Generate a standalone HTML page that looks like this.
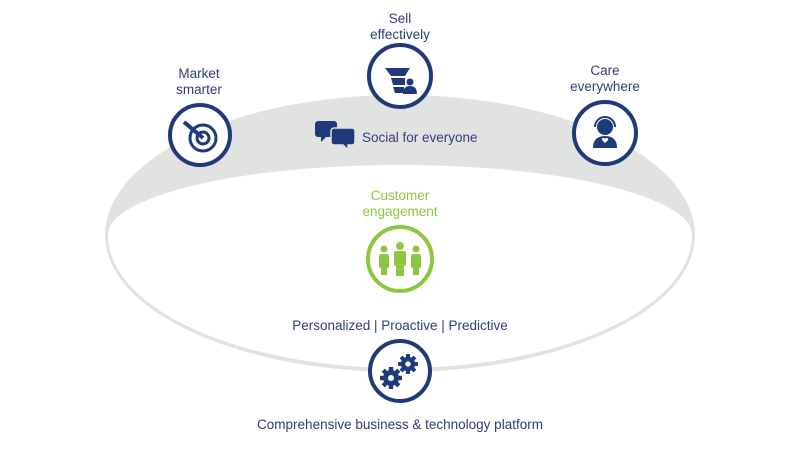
<!DOCTYPE html>
<html><head><meta charset="utf-8"><style>
html,body{margin:0;padding:0;background:#fff;width:800px;height:456px;overflow:hidden}
svg text{font-family:"Liberation Sans",sans-serif;font-size:13.5px;fill:#2b3f7a}
</style></head><body>
<svg width="800" height="456" viewBox="0 0 800 456">
<defs>
<g id="gear">
<circle r="8" fill="#1f3a7a"/>
<g fill="#1f3a7a">
<rect x="-2.2" y="-11" width="4.4" height="22"/>
<rect x="-2.2" y="-11" width="4.4" height="22" transform="rotate(45)"/>
<rect x="-2.2" y="-11" width="4.4" height="22" transform="rotate(90)"/>
<rect x="-2.2" y="-11" width="4.4" height="22" transform="rotate(135)"/>
</g>
<circle r="3" fill="#fff"/>
</g>
</defs>
<path d="M105 235 A295 140 0 0 1 695 235 A295 137 0 0 1 105 235 Z" fill="#e1e2e2"/>
<path d="M108 235 A292 70 0 0 1 692 235 A292 133 0 0 1 108 235 Z" fill="#fff"/>

<!-- Market smarter -->
<text x="199" y="78" text-anchor="middle">Market</text>
<text x="199" y="94" text-anchor="middle">smarter</text>
<circle cx="200" cy="135" r="30" fill="#fff" stroke="#1f3a7a" stroke-width="4"/>
<circle cx="203" cy="138" r="13" fill="none" stroke="#1f3a7a" stroke-width="3"/>
<circle cx="203" cy="138" r="6" fill="none" stroke="#1f3a7a" stroke-width="3"/>
<path d="M203 138 L184 122" stroke="#1f3a7a" stroke-width="4"/>

<!-- Sell -->
<text x="400" y="23" text-anchor="middle">Sell</text>
<text x="400" y="39" text-anchor="middle">effectively</text>
<circle cx="400" cy="76" r="31" fill="#fff" stroke="#1f3a7a" stroke-width="4"/>
<path d="M385 68 H410 L405 76 H391 Z M391 78 H405 V85 H393 Z M393 87 H404 V93 H395 Z" fill="#1f3a7a"/>
<circle cx="410" cy="82" r="3.5" fill="#1f3a7a"/>
<path d="M403 94 Q403 86 410 86 Q417 86 417 94 Z" fill="#1f3a7a"/>

<!-- Social -->
<path d="M318 121 h16 a3 3 0 0 1 3 3 v10 a3 3 0 0 1 -3 3 h-8 l-5 5 v-5 h-3 a3 3 0 0 1 -3 -3 v-10 a3 3 0 0 1 3 -3z" fill="#1f3a7a"/>
<path d="M334 128 h18 a3 3 0 0 1 3 3 v11 a3 3 0 0 1 -3 3 h-4 v5 l-5 -5 h-9 a3 3 0 0 1 -3 -3 v-11 a3 3 0 0 1 3 -3z" fill="#1f3a7a" stroke="#e1e2e2" stroke-width="1.5"/>
<text x="362" y="142">Social for everyone</text>

<!-- Care -->
<text x="605" y="75" text-anchor="middle">Care</text>
<text x="605" y="91" text-anchor="middle">everywhere</text>
<circle cx="605" cy="133" r="31" fill="#fff" stroke="#1f3a7a" stroke-width="4"/>
<circle cx="605" cy="127" r="8" fill="#1f3a7a"/>
<path d="M595 127 a10 10 0 0 1 20 0" fill="none" stroke="#1f3a7a" stroke-width="2"/>
<path d="M593 148 Q593 136 605 136 Q617 136 617 148 Z" fill="#1f3a7a"/>
<path d="M605 143 l-3 -3 a1.5 1.5 0 0 1 3 -1 a1.5 1.5 0 0 1 3 1z" fill="#fff"/>

<!-- Customer engagement -->
<text x="400" y="200" text-anchor="middle" style="fill:#8dc63f">Customer</text>
<text x="400" y="216" text-anchor="middle" style="fill:#8dc63f">engagement</text>
<circle cx="400" cy="259" r="32" fill="#fff" stroke="#8dc63f" stroke-width="4"/>
<g fill="#8dc63f">
<circle cx="384" cy="249" r="3.5"/><rect x="379" y="254" width="10" height="14" rx="2"/><rect x="381" y="266" width="6" height="9"/>
<circle cx="400" cy="246" r="4"/><rect x="394" y="251" width="12" height="15" rx="2"/><rect x="396" y="264" width="8" height="12"/>
<circle cx="416" cy="249" r="3.5"/><rect x="411" y="254" width="10" height="14" rx="2"/><rect x="413" y="266" width="6" height="9"/>
</g>

<text x="400" y="330" text-anchor="middle">Personalized | Proactive | Predictive</text>

<!-- gears -->
<circle cx="400" cy="371" r="30" fill="#fff" stroke="#1f3a7a" stroke-width="4"/>
<use href="#gear" x="391" y="378"/>
<use href="#gear" x="408" y="364" transform="translate(408 364) scale(0.9) translate(-408 -364)"/>

<text x="400" y="429" text-anchor="middle">Comprehensive business &amp; technology platform</text>
</svg>
</body></html>
